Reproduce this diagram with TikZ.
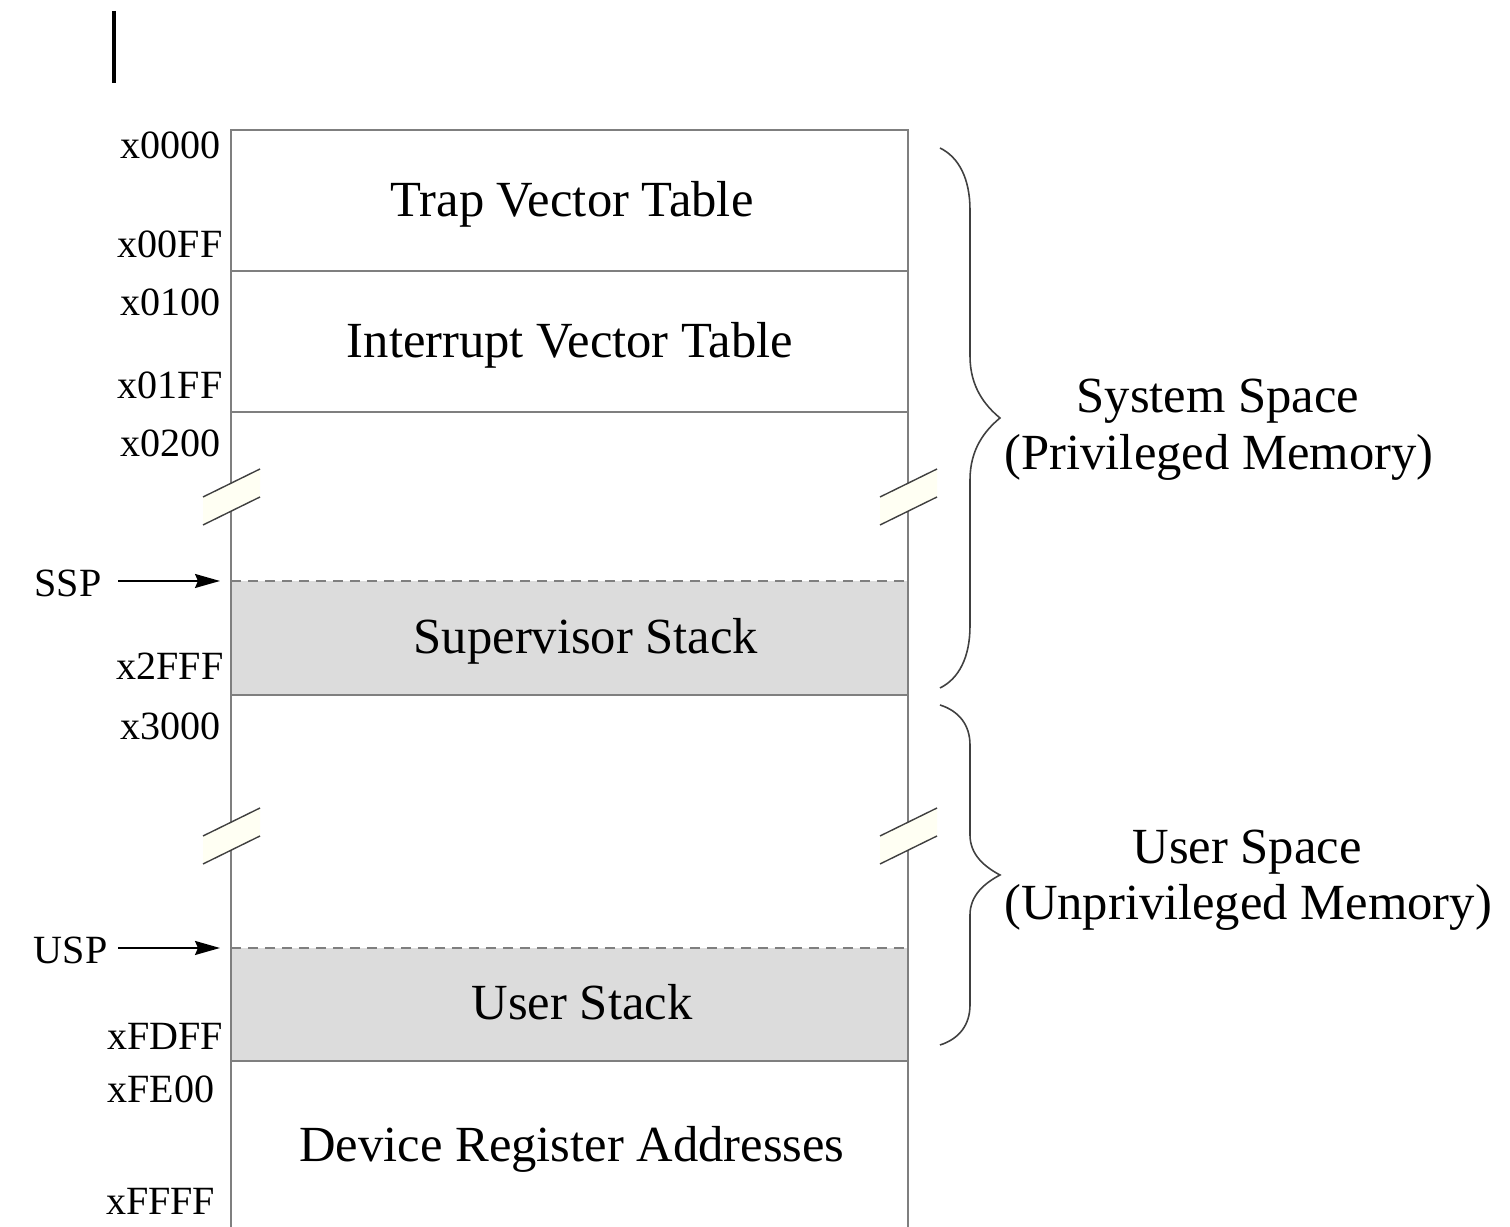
\documentclass[tikz,border=0pt]{standalone}
\usepackage{fontspec}
\setmainfont{Liberation Serif}
\usetikzlibrary{arrows.meta}

\definecolor{boxline}{HTML}{7F7F7F}
\definecolor{stackgray}{HTML}{DCDCDC}
\definecolor{breakfill}{HTML}{FFFFF3}

% cut marks on the sides of the map, #1 = left x, #2 = y of the lower left corner of the top stroke
\newcommand{\cutmark}[2]{%
  \fill[breakfill] (#1,#2) -- (#1+57,#2-28) -- (#1+57,#2) -- (#1,#2+28) -- cycle;
  \draw[cutline] (#1,#2) -- (#1+57,#2-28);
  \draw[cutline] (#1,#2+28) -- (#1+57,#2);
}
% curly brace with its tip at y=#1, half length #2, curl #3
\newcommand{\spacebrace}[3]{%
  \draw[brace] (940,#1-#2) .. controls (959,#1-#2+#3*0.15) and (970,#1-#2+#3*0.5) .. (970,#1-#2+#3)
    -- (970,#1-#3) .. controls (970,#1-#3*0.5) and (985,#1-#3*0.2) .. (1000,#1)
    .. controls (985,#1+#3*0.2) and (970,#1+#3*0.5) .. (970,#1+#3)
    -- (970,#1+#2-#3) .. controls (970,#1+#2-#3*0.5) and (959,#1+#2-#3*0.15) .. (940,#1+#2);
}

\begin{document}
\begin{tikzpicture}[x=0.1mm,y=-0.1mm]
    \tikzstyle{region} = [draw=boxline, line width=0.6pt]
    \tikzstyle{cutline} = [draw=black!75, line width=0.4pt]
    \tikzstyle{brace} = [draw=black!75, line width=0.45pt]
    \tikzstyle{addr} = [anchor=base east, inner sep=0pt, font=\fontsize{11.4}{13}\selectfont]
    \tikzstyle{areatext} = [anchor=base, inner sep=0pt, font=\fontsize{14.4}{16}\selectfont]
    \tikzstyle{pointer} = [line width=0.5pt, -{Stealth[length=2.5mm, width=1.4mm, inset=0.3mm]}]

    \useasboundingbox (0,0) rectangle (1510,1227);

    \draw[line width=0.9pt] (114,11) -- (114,83);

    % stacks
    \fill[stackgray] (231,581) rectangle (908,695);
    \fill[stackgray] (231,948) rectangle (908,1061);

    % memory map
    \draw[region] (231,1227) -- (231,130) -- (908,130) -- (908,1227);
    \foreach \y in {271,412,695,1061}
        \draw[region] (231,\y) -- (908,\y);
    \foreach \y in {581,948}
        \draw[region, dash pattern=on 1mm off 0.7mm] (231,\y) -- (908,\y);

    \cutmark{203}{497}
    \cutmark{880}{497}
    \cutmark{203}{836}
    \cutmark{880}{836}

    \node (trap) [areatext] at (572,217) {Trap Vector Table};
    \node (intr) [areatext] at (570,358) {Interrupt Vector Table};
    \node (superstack) [areatext] at (586,654) {Supervisor Stack};
    \node (userstack) [areatext] at (582,1020) {User Stack};
    \node (device) [areatext] at (572,1162) {Device Register Addresses};

    % addresses
    \node (a0000) [addr] at (221,159) {x0000};
    \node (a00FF) [addr] at (223,258) {x00FF};
    \node (a0100) [addr] at (221,316) {x0100};
    \node (a01FF) [addr] at (223,399) {x01FF};
    \node (a0200) [addr] at (221,457) {x0200};
    \node (a2FFF) [addr] at (224,680) {x2FFF};
    \node (a3000) [addr] at (221,740) {x3000};
    \node (aFDFF) [addr] at (224,1050) {xFDFF};
    \node (aFE00) [addr] at (215,1103) {xFE00};
    \node (aFFFF) [addr] at (216,1215) {xFFFF};

    % stack pointers
    \node (ssp) [anchor=east, inner sep=0pt, font=\fontsize{11.4}{13}\selectfont] at (102,583) {SSP};
    \node (usp) [anchor=east, inner sep=0pt, font=\fontsize{11.4}{13}\selectfont] at (108,950) {USP};
    \coordinate (sspin) at (220,581);
    \coordinate (uspin) at (220,948);
    \draw[pointer] (ssp.east |- sspin) ++(16,0) -- (sspin);
    \draw[pointer] (usp.east |- uspin) ++(10,0) -- (uspin);

    % system / user space
    \spacebrace{418}{270}{62}
    \spacebrace{875}{170}{40}
    \node (sysname) [areatext] at (1218,413) {System Space};
    \node (syskind) [areatext] at (1219,470) {(Privileged Memory)};
    \node (username) [areatext] at (1247,864) {User Space};
    \node (userkind) [areatext] at (1248,920) {(Unprivileged Memory)};
\end{tikzpicture}
\end{document}
